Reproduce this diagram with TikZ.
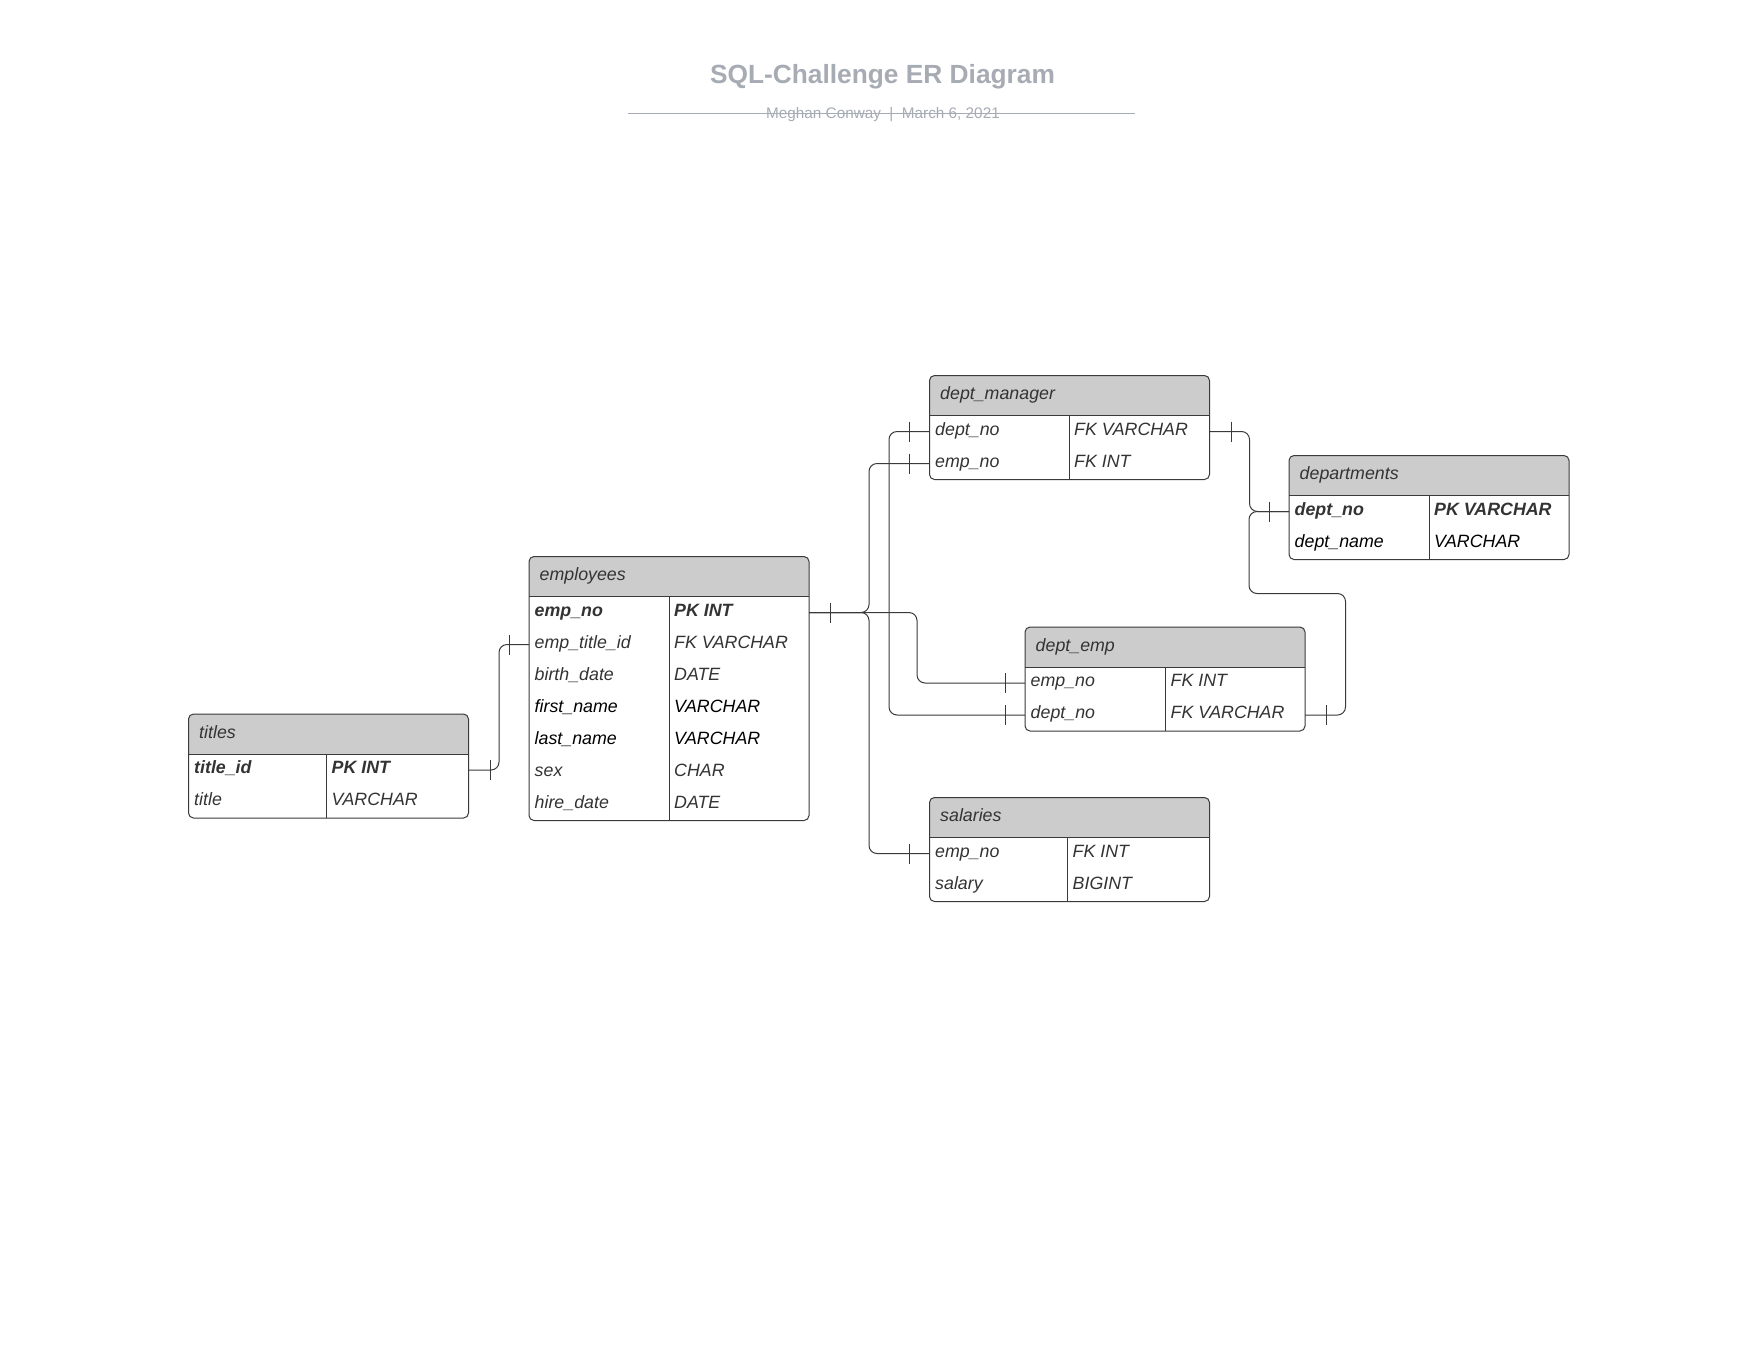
\documentclass[tikz,border=0pt]{standalone}
\usepackage{fontspec}
\setmainfont{Liberation Sans}
\usetikzlibrary{calc}
\definecolor{hdrcol}{HTML}{CCCCCC}
\definecolor{bordercol}{HTML}{3A3A3A}
\definecolor{linecol}{HTML}{3A3A3A}
\definecolor{txtcol}{HTML}{333333}
\definecolor{titlecol}{HTML}{A6ABB4}
\newcommand\cellfont{\fontsize{17.8}{21}\selectfont\itshape}
\tikzset{
  frame/.style={draw=bordercol, line width=1pt, rounded corners=5pt, minimum width=280pt, inner sep=0pt, outer sep=0pt},
  tablerule/.style={draw=bordercol, line width=1pt},
  rowbox/.style={minimum width=280pt, minimum height=32pt, inner sep=0pt, outer sep=0pt},
  celltext/.style={inner sep=0pt, text=txtcol, font=\cellfont},
  pk/.style={font={\cellfont\bfseries}},
  dark/.style={text=black},
  hdrtext/.style={inner sep=0pt, text=txtcol, font=\cellfont},
  conn/.style={draw=linecol, line width=1pt, rounded corners=8pt},
  tickmark/.style={draw=linecol, line width=1pt},
  titletext/.style={inner sep=0pt, text=titlecol, font={\fontsize{26.3}{30}\selectfont\bfseries}},
  subtext/.style={inner sep=0pt, text=titlecol, font={\fontsize{15.3}{18}\selectfont}},
  subrule/.style={draw=titlecol, line width=1.4pt},
}
% #1 id, #2 x, #3 y, #4 rows, #5 divider offset, #6 title
\newcommand\ertable[6]{%
  \pgfmathsetmacro\erh{40+32*#4}%
  \begin{scope}
    \clip[rounded corners=5pt] (#2,#3) rectangle ++(280,\erh);
    \fill[hdrcol] (#2,#3) rectangle ++(280,40);
  \end{scope}
  \node[frame, minimum height=\erh pt, anchor=north west] (#1) at (#2,#3) {};
  \draw[tablerule] ($(#1.north west)+(0,40)$) -- ($(#1.north east)+(0,40)$);
  \draw[tablerule] ($(#1.north west)+(#5,40)$) -- ($(#1.south west)+(#5,0)$);
  \node[hdrtext, anchor=base west] (#1-h) at ($(#1.north west)+(10.5,24)$) {#6};
  \def\erdiv{#5}%
}
% #1 style, #2 id, #3 index, #4 field, #5 type
\newcommand\errow[5][]{%
  \node[rowbox, anchor=north west] (#2-#3) at ($(#2.north west)+(0,{40+32*(#3-1)})$) {};
  \node[celltext,#1,anchor=base west] (#2-#3-f) at ($(#2-#3.west)+(5.5,3.5)$) {#4};
  \node[celltext,#1,anchor=base west] (#2-#3-t) at ($(#2-#3.west)+(\erdiv+5,3.5)$) {#5};
}
\newcommand\ertick[2]{\draw[tickmark] ($(#1)+(#2,-10)$) -- ($(#1)+(#2,10)$);}
\begin{document}
\begin{tikzpicture}[x=1pt,y=-1pt]
\useasboundingbox[fill=white] (0,0) rectangle (1760,1360);

% title
\node[titletext, anchor=base] (title) at (882.5,83.3) {SQL-Challenge ER Diagram};
\node[subtext, anchor=base] (subtitle) at (883,118.3) {Meghan Conway\ \ |\ \ March 6, 2021};
\coordinate (ruleL) at (627.5,113.5);
\coordinate (ruleR) at (1135,113.5);
\draw[subrule] (ruleL) -- (ruleR);

% tables
\ertable{titles}{188.5}{714}{2}{138}{titles}
\errow[pk]{titles}{1}{title\_id}{PK INT}
\errow{titles}{2}{title}{VARCHAR}

\ertable{employees}{529}{556.5}{7}{140}{employees}
\errow[pk]{employees}{1}{emp\_no}{PK INT}
\errow{employees}{2}{emp\_title\_id}{FK VARCHAR}
\errow{employees}{3}{birth\_date}{DATE}
\errow[dark]{employees}{4}{first\_name}{VARCHAR}
\errow[dark]{employees}{5}{last\_name}{VARCHAR}
\errow{employees}{6}{sex}{CHAR}
\errow{employees}{7}{hire\_date}{DATE}

\ertable{deptmgr}{929.5}{375.5}{2}{139.5}{dept\_manager}
\errow{deptmgr}{1}{dept\_no}{FK VARCHAR}
\errow{deptmgr}{2}{emp\_no}{FK INT}

\ertable{departments}{1289}{455.5}{2}{140}{departments}
\errow[pk]{departments}{1}{dept\_no}{PK VARCHAR}
\errow[dark]{departments}{2}{dept\_name}{VARCHAR}

\ertable{deptemp}{1025}{627}{2}{140.5}{dept\_emp}
\errow{deptemp}{1}{emp\_no}{FK INT}
\errow{deptemp}{2}{dept\_no}{FK VARCHAR}

\ertable{salaries}{929.5}{797.5}{2}{138}{salaries}
\errow{salaries}{1}{emp\_no}{FK INT}
\errow{salaries}{2}{salary}{BIGINT}

% connectors
\draw[conn] (titles-1.east) -- ++(30.5,0) |- (employees-2.west);
\ertick{titles-1.east}{21.5}
\ertick{employees-2.west}{-20}

\draw[conn] (employees-1.east) -- ++(60,0) |- (deptmgr-2.west);
\draw[conn] (employees-1.east) -- ++(60,0) |- (salaries-1.west);
\draw[conn] (employees-1.east) -- ++(108,0) |- (deptemp-1.west);
\ertick{employees-1.east}{21.5}
\ertick{deptmgr-2.west}{-20}
\ertick{salaries-1.west}{-20}
\ertick{deptemp-1.west}{-20}

\draw[conn] (deptmgr-1.west) -- ++(-40.5,0) |- (deptemp-2.west);
\ertick{deptmgr-1.west}{-20}
\ertick{deptemp-2.west}{-20}

\draw[conn] (deptmgr-1.east) -- ++(40,0) |- (departments-1.west);
\ertick{deptmgr-1.east}{21.5}
\ertick{departments-1.west}{-20}

\draw[conn] (departments-1.west) -- ++(-40,0) -- ++(0,82) -- ++(96.5,0) |- (deptemp-2.east);
\ertick{deptemp-2.east}{21}
\end{tikzpicture}
\end{document}
